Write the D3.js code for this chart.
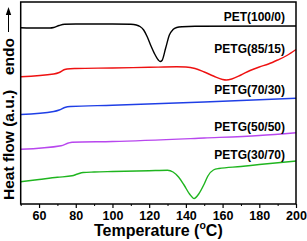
<!DOCTYPE html>
<html><head><meta charset="utf-8">
<script src="https://cdn.jsdelivr.net/npm/d3@7"></script>
<style>body{margin:0;background:#fff}svg{display:block}text{font-family:"Liberation Sans",Arial,sans-serif;font-weight:bold}</style>
</head><body><svg id="c" width="307" height="241"></svg>
<script>
const seriesNames = ["PET(100/0)", "PETG(85/15)", "PETG(70/30)", "PETG(50/50)", "PETG(30/70)"];
const seriesColors = ["#000000", "#ee1111", "#1f3fe6", "#b847ee", "#1fb51f"];
const petT = [50,60,66,68,71,74,80,100,110,113,115,117,119,121,123,125,126,127,129,131,133,135,138,145,200];
const petV = [17.63,17.60,17.60,17.65,17.85,17.97,18.00,18.00,17.97,17.90,17.75,17.40,16.70,15.80,15.00,14.40,14.25,14.35,15.60,16.90,17.45,17.65,17.73,17.78,17.80];
const p85T = [50,68,71,74,77,80,100,120,135,140,145,150,155,160,162,165,170,175,180,185,190,195,200];
const p85V = [12.73,13.00,13.15,13.45,13.53,13.55,13.60,13.67,13.72,13.70,13.55,13.20,12.80,12.45,12.40,12.50,12.90,13.35,13.70,14.00,14.40,14.85,15.45];
const p70T = [50,68,71,74,77,100,150,200];
const p70V = [8.95,9.25,9.40,9.65,9.75,9.87,10.20,10.57];
const p50T = [50,72,76,78,100,150,180,200];
const p50V = [5.47,5.83,6.10,6.17,6.25,6.60,6.85,7.13];
const p30T = [50,60,70,78,81,84,90,100,120,130,133,136,139,142,144.5,147,150,152,155,158,170,180,200];
const p30V = [2.23,2.45,2.67,2.82,3.00,3.15,3.20,3.25,3.33,3.37,3.20,2.70,1.90,1.00,0.55,1.00,2.00,2.80,3.40,3.55,3.75,3.95,4.30];
const xTicks = [60,80,100,120,140,160,180,200];
const xMinorTicks = [50,70,90,110,130,150,170,190];

const seriesT = [petT,p85T,p70T,p50T,p30T];
const seriesV = [petV,p85V,p70V,p50V,p30V];

const W=307,H=241, L=20.7,R=296,T=2,B=204;
const labelX = 285, labelY = [20.5,53,93.5,131,158.5];

const svg=d3.select("#c");
const x=d3.scaleLinear().domain([50,200]).range([L,R]);
const y=d3.scaleLinear().domain([0,20.2]).range([B,T]);

const line=d3.line().x(d=>x(d[0])).y(d=>y(d[1])).curve(d3.curveMonotoneX);
seriesT.forEach((ts,i)=>{
  const pts=ts.map((t,j)=>[t,seriesV[i][j]]);
  svg.append("path").attr("d",line(pts)).attr("fill","none")
    .attr("stroke",seriesColors[i]).attr("stroke-width",1.4);
});

// frame
svg.append("rect").attr("x",L).attr("y",T).attr("width",R-L).attr("height",B-T)
  .attr("fill","none").attr("stroke","#000").attr("stroke-width",1.5);

// x axis
const ax=svg.append("g").attr("transform",`translate(0,${B})`)
  .call(d3.axisBottom(x).tickValues(xTicks).tickSize(4).tickPadding(3).tickFormat(d3.format("d")));
ax.select(".domain").remove();
ax.selectAll(".tick line").attr("stroke-width",1.2);
ax.selectAll("text").attr("font-size",12.5).attr("font-family","Liberation Sans, Arial").attr("font-weight","bold").attr("fill","#000");
svg.append("g").attr("transform",`translate(0,${B})`)
  .call(d3.axisBottom(x).tickValues(xMinorTicks).tickSize(2).tickFormat(""))
  .call(g=>g.select(".domain").remove()).selectAll("line").attr("stroke-width",1);

// series labels
seriesNames.forEach((n,i)=>{
  svg.append("text").attr("x",labelX).attr("y",labelY[i]).attr("text-anchor","end")
    .attr("font-size",12).text(n);
});

// x title
const xt=svg.append("text").attr("x",(L+R)/2).attr("y",235.5).attr("text-anchor","middle").attr("font-size",16);
xt.append("tspan").text("Temperature (");
xt.append("tspan").attr("font-size",10.5).attr("dy",-6.5).text("o");
xt.append("tspan").attr("dy",6.5).text("C)");

// y title
const yg=svg.append("g").attr("transform","translate(13.5,200) rotate(-90)");
yg.append("text").attr("x",0).attr("y",0).attr("font-size",15.5).text("Heat flow (a.u.)");
yg.append("text").attr("x",125).attr("y",0).attr("font-size",15.5).text("endo");
yg.append("line").attr("x1",168).attr("x2",190).attr("y1",-5).attr("y2",-5).attr("stroke","#000").attr("stroke-width",1);
yg.append("path").attr("d","M193,-5 L185,-7.7 L185,-2.3 Z").attr("fill","#000");
</script></body></html>
